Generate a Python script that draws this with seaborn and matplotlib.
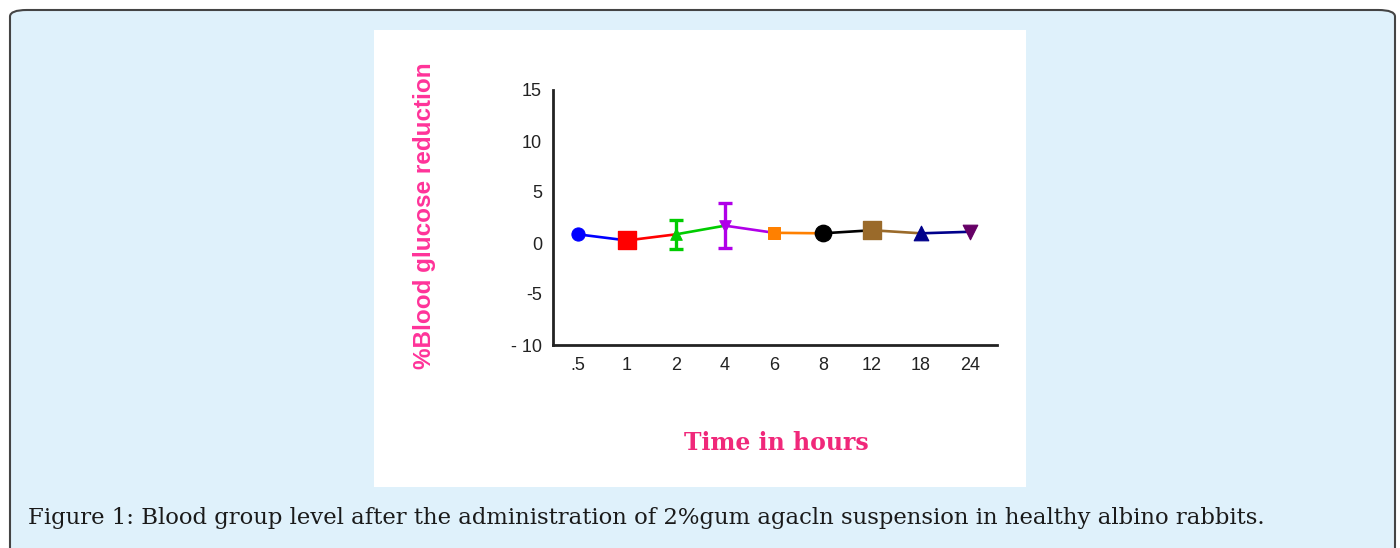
import matplotlib
matplotlib.use("Agg")
import matplotlib.pyplot as plt
from matplotlib.patches import FancyBboxPatch, Rectangle
import seaborn as sns
import pandas as pd

# ---- data ----
time_labels = [".5", "1", "2", "4", "6", "8", "12", "18", "24"]
reduction = [0.85, 0.25, 0.85, 1.7, 1.0, 0.95, 1.25, 0.95, 1.1]
error = [0.0, 0.0, 1.4, 2.2, 0.0, 0.0, 0.0, 0.0, 0.0]
point_colors = ["#0000FF", "#FF0000", "#00CC00", "#B000E8", "#FF8000",
                "#000000", "#9A6A2A", "#00008B", "#660066"]
point_markers = ["o", "s", "^", "v", "s", "o", "s", "^", "v"]
point_sizes = [90, 150, 70, 70, 80, 140, 150, 110, 110]
y_ticks = [-10, -5, 0, 5, 10, 15]
y_tick_labels = ["- 10", "-5", "0", "5", "10", "15"]
y_label = "%Blood glucose reduction"
x_label = "Time in hours"
caption = "Figure 1: Blood group level after the administration of 2%gum agacln suspension in healthy albino rabbits."

sns.set_style("white")
plt.rcParams["font.family"] = ["Liberation Sans", "DejaVu Sans"]

W, H = 1400, 548
fig = plt.figure(figsize=(14, 5.48), dpi=100)
fig.patch.set_facecolor("white")

# light blue panel
panel = FancyBboxPatch((10 / W, -0.1), 1385 / W, (548 - 10) / H + 0.1,
                       boxstyle="round,pad=0,rounding_size=0.012",
                       transform=fig.transFigure, facecolor="#DFF1FB",
                       edgecolor="#444444", linewidth=1.5, zorder=-3)
fig.patches.append(panel)
# white image area
img = Rectangle((374 / W, (548 - 487) / H), 652 / W, 457 / H,
                transform=fig.transFigure, facecolor="white",
                edgecolor="none", zorder=-2)
fig.patches.append(img)

ax = fig.add_axes([553 / W, (548 - 345) / H, 444 / W, 255 / H])
ax.set_facecolor("none")
ax.set_zorder(5)

df = pd.DataFrame({"pos": range(len(time_labels)), "val": reduction,
                   "err": error, "label": time_labels})

# line segments colored by starting point
for i in range(len(df) - 1):
    seg = df.iloc[i:i + 2]
    sns.lineplot(data=seg, x="pos", y="val", color=point_colors[i],
                 linewidth=1.9, ax=ax, zorder=2)

# error bars
for i, r in df.iterrows():
    if r["err"] > 0:
        ax.errorbar(r["pos"], r["val"], yerr=r["err"], fmt="none",
                    ecolor=point_colors[i], elinewidth=2.4, capsize=5,
                    capthick=2.4, zorder=3)

# markers
for i, r in df.iterrows():
    sns.scatterplot(x=[r["pos"]], y=[r["val"]], marker=point_markers[i],
                    s=point_sizes[i], color=point_colors[i],
                    edgecolor=point_colors[i], ax=ax, zorder=4)

ax.set_xlim(-0.51, 8.55)
ax.set_ylim(-10, 15)
ax.set_xticks(range(len(time_labels)))
ax.set_xticklabels(time_labels)
ax.set_yticks(y_ticks)
ax.set_yticklabels(y_tick_labels)
ax.set_xlabel("")
ax.set_ylabel("")
sns.despine(ax=ax, top=True, right=True)
for s in ["left", "bottom"]:
    ax.spines[s].set_color("#222222")
    ax.spines[s].set_linewidth(2)
ax.tick_params(axis="both", direction="out", length=5, width=1.5,
               color="#222222", labelsize=13, labelcolor="#222222", pad=3)
ax.tick_params(axis="x", pad=4)

fig.text(425 / W, 1 - 216 / H, y_label, rotation=90, ha="center",
         va="center", fontsize=17.5, fontweight="bold", color="#FF3399",
         family=["Liberation Sans", "DejaVu Sans"])
fig.text(776 / W, 1 - 443 / H, x_label, ha="center", va="center",
         fontsize=17, fontweight="bold", color="#F0287A",
         family=["DejaVu Serif"])
fig.text(28 / W, 1 - 518 / H, caption, ha="left", va="center",
         fontsize=16.4, color="#1a1a1a",
         family=["DejaVu Serif"])

fig.savefig("out.png", dpi=100, facecolor="white")
